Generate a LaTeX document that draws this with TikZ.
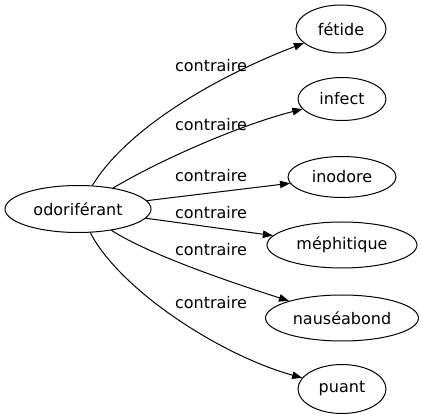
\documentclass[tikz,border=0pt]{standalone}
\usepackage{fontspec}
\setmainfont{DejaVu Sans}
\usetikzlibrary{shapes.geometric,arrows.meta}
\begin{document}
\begin{tikzpicture}[x=1pt,y=-1pt,line width=1pt,
  word/.style={draw,ellipse,inner sep=0pt,font=\fontsize{16}{19}\selectfont},
  rel/.style={font=\fontsize{16}{19}\selectfont,inner sep=0pt},
  link/.style={draw,-{Triangle[length=10pt,width=7.5pt]}}]
\useasboundingbox (0,0) rectangle (423,419);
\node[word,minimum width=146pt,minimum height=47pt] (src) at (78,209) {odoriférant};
\node[word,minimum width=90pt,minimum height=48pt] (fetide) at (341,29) {fétide};
\node[word,minimum width=88pt,minimum height=43pt] (infect) at (342,99) {infect};
\node[word,minimum width=108pt,minimum height=41pt] (inodore) at (342,177) {inodore};
\node[word,minimum width=150pt,minimum height=46pt] (meph) at (342,245) {méphitique};
\node[word,minimum width=153pt,minimum height=46pt] (naus) at (342,318) {nauséabond};
\node[word,minimum width=88pt,minimum height=49pt] (puant) at (342,389) {puant};
\node[rel] (l1) at (211,66) {contraire};
\node[rel] (l2) at (211,125) {contraire};
\node[rel] (l3) at (211,176) {contraire};
\node[rel] (l4) at (211,213) {contraire};
\node[rel] (l5) at (211,250) {contraire};
\node[rel] (l6) at (211,303) {contraire};
\draw[link] (src) .. controls (128,127) and (220,75) .. (fetide);
\draw[link] (src) .. controls (160,160) and (240,125) .. (infect);
\draw[link] (src) -- (inodore);
\draw[link] (src) -- (meph);
\draw[link] (src) .. controls (150,255) and (230,282) .. (naus);
\draw[link] (src) .. controls (120,290) and (220,355) .. (puant);
\end{tikzpicture}
\end{document}
